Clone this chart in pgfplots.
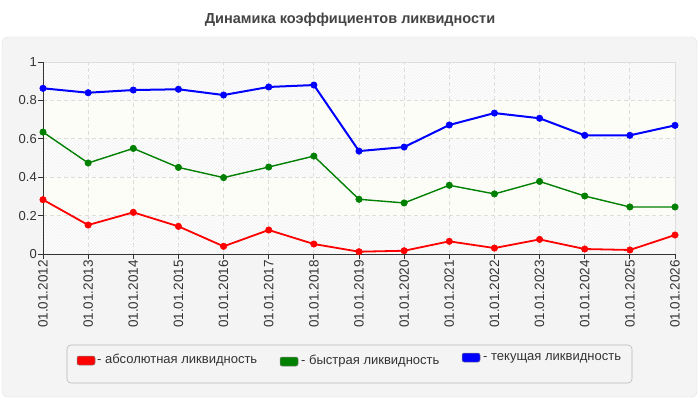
\documentclass[border=0pt]{standalone}
\usepackage{fontspec}
\setmainfont{Liberation Sans}
\usepackage{pgfplots}
\pgfplotsset{compat=1.18}
\usetikzlibrary{patterns}

\definecolor{panel}{HTML}{F4F4F4}
\definecolor{panelborder}{HTML}{E2E2E2}
\definecolor{hatch}{HTML}{EFEFEF}
\definecolor{bandy}{HTML}{FDFDF8}
\definecolor{gridgray}{HTML}{DDDDDD}
\definecolor{axisdark}{HTML}{333333}
\definecolor{titlegray}{HTML}{444444}
\definecolor{legendborder}{HTML}{B8B8B8}

\begin{document}
\begin{tikzpicture}
% page and panel
\fill[white] (0,0) rectangle (700pt,-400pt);
\filldraw[fill=panel,draw=panelborder,rounded corners=6pt] (2pt,-37pt) rectangle (697pt,-397pt);
\node[font=\fontsize{14.5}{16}\selectfont\bfseries,text=titlegray] at (350pt,-20pt) {Динамика коэффициентов ликвидности};

% plot background bands
\foreach \k in {0,2,4}{
  \fill[white] (43pt,{-254pt+38.4pt*\k}) rectangle (675pt,{-254pt+38.4pt*(\k+1)});
  \fill[pattern=north east lines,pattern color=hatch] (43pt,{-254pt+38.4pt*\k}) rectangle (675pt,{-254pt+38.4pt*(\k+1)});
}
\foreach \k in {1,3}{
  \fill[bandy] (43pt,{-254pt+38.4pt*\k}) rectangle (675pt,{-254pt+38.4pt*(\k+1)});
}
\draw[gridgray,line width=0.8pt] (43pt,-62pt) -- (675pt,-62pt) -- (675pt,-254pt);

\begin{axis}[
  at={(43pt,-254pt)}, anchor=south west,
  scale only axis, width=632pt, height=192pt,
  xmin=0, xmax=14, ymin=0, ymax=1,
  axis lines*=left,
  axis line style={draw=axisdark,line width=0.8pt,-},
  tick style={draw=axisdark,line width=0.8pt},
  tick align=outside, major tick length=5pt,
  xtick={0,...,14},
  xticklabels={01.01.2012,01.01.2013,01.01.2014,01.01.2015,01.01.2016,01.01.2017,01.01.2018,01.01.2019,01.01.2020,01.01.2021,01.01.2022,01.01.2023,01.01.2024,01.01.2025,01.01.2026},
  xticklabel style={rotate=90,anchor=east,font=\fontsize{13.5}{15}\selectfont,text=axisdark,inner sep=1pt},
  ytick={0,0.2,0.4,0.6,0.8,1},
  yticklabels={0,0.2,0.4,0.6,0.8,1},
  yticklabel style={font=\fontsize{13}{15}\selectfont,text=axisdark,inner sep=1pt},
  xtick pos=left, ytick pos=left,
  grid=major,
  major grid style={draw=gridgray,line width=0.8pt,dash pattern=on 4pt off 3pt},
  clip=false,
  /pgf/number format/assume math mode=true,
  every axis plot/.append style={mark=*,mark size=3.2pt,mark options={line width=0.6pt}},
]
\addplot[red,line width=1.8pt] coordinates {
(0,0.283) (1,0.151) (2,0.217) (3,0.144) (4,0.040) (5,0.125) (6,0.052)
(7,0.012) (8,0.017) (9,0.066) (10,0.031) (11,0.076) (12,0.026) (13,0.021) (14,0.099)
};
\addplot[green!50!black,line width=1.4pt] coordinates {
(0,0.635) (1,0.474) (2,0.550) (3,0.451) (4,0.398) (5,0.453) (6,0.510)
(7,0.285) (8,0.266) (9,0.358) (10,0.313) (11,0.378) (12,0.302) (13,0.245) (14,0.245)
};
\addplot[blue,line width=2pt] coordinates {
(0,0.863) (1,0.840) (2,0.854) (3,0.858) (4,0.828) (5,0.870) (6,0.880)
(7,0.536) (8,0.557) (9,0.672) (10,0.734) (11,0.707) (12,0.618) (13,0.618) (14,0.670)
};
\end{axis}

% legend
\filldraw[fill=panel,draw=legendborder,line width=0.6pt,rounded corners=4pt] (67pt,-345pt) rectangle (632pt,-383pt);
\begin{scope}[every node/.style={font=\fontsize{13}{15}\selectfont,text=axisdark,anchor=west,inner sep=0pt}]
\filldraw[fill=red,draw=gray,line width=0.5pt,rounded corners=2pt] (77pt,-356pt) rectangle (95pt,-365pt);
\node at (97pt,-360.5pt) {- абсолютная ликвидность};
\filldraw[fill=green!50!black,draw=gray,line width=0.5pt,rounded corners=2pt] (280pt,-357pt) rectangle (298pt,-366pt);
\node at (301pt,-361.5pt) {- быстрая ликвидность};
\filldraw[fill=blue,draw=gray,line width=0.5pt,rounded corners=2pt] (462pt,-353pt) rectangle (480pt,-362pt);
\node at (483pt,-358pt) {- текущая ликвидность};
\end{scope}
\end{tikzpicture}
\end{document}
